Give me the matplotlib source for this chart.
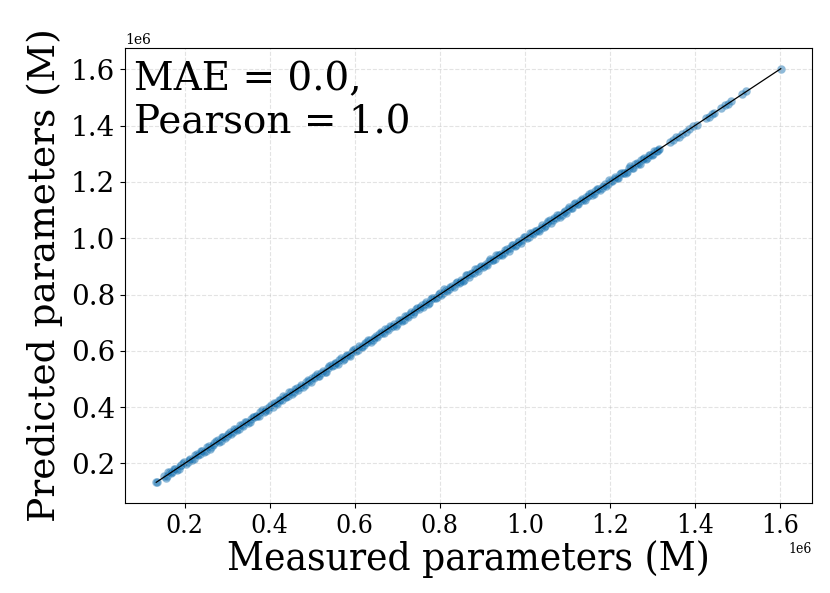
import numpy as np
import matplotlib
matplotlib.use("Agg")
import matplotlib.pyplot as plt
from matplotlib.ticker import MultipleLocator

# values in millions of parameters
measured_a = [0.133, 0.134, 0.152, 0.158, 0.165, 0.171, 0.178, 0.186, 0.192, 0.199, 0.207, 0.213,
              0.221, 0.228, 0.236, 0.241, 0.249, 0.257, 0.262, 0.270, 0.278, 0.285, 0.291, 0.299,
              0.306, 0.314, 0.320, 0.327, 0.335, 0.342, 0.349, 0.357, 0.363, 0.371, 0.378, 0.386,
              0.392, 0.399, 0.407, 0.414, 0.421, 0.428, 0.435, 0.443, 0.450, 0.457, 0.464, 0.471,
              0.478, 0.486, 0.493, 0.500, 0.507, 0.514, 0.521, 0.529, 0.536, 0.543, 0.550, 0.557,
              0.564, 0.572, 0.579, 0.586, 0.593, 0.600, 0.607, 0.614, 0.622, 0.629, 0.636, 0.643,
              0.650, 0.657, 0.665, 0.672, 0.679, 0.686, 0.693, 0.700, 0.708, 0.715, 0.722, 0.729,
              0.736, 0.743, 0.751, 0.758, 0.765, 0.772, 0.779, 0.786, 0.794, 0.801, 0.808, 0.815,
              0.822, 0.829, 0.837, 0.844, 0.851, 0.858, 0.865, 0.872, 0.880, 0.887, 0.894, 0.901,
              0.908, 0.915, 0.923, 0.930, 0.937, 0.944, 0.951, 0.958, 0.966, 0.973, 0.980, 0.987,
              0.994, 1.001, 1.009, 1.016, 1.023, 1.030, 1.037, 1.044, 1.052, 1.059, 1.066, 1.073,
              1.080, 1.087, 1.095, 1.102, 1.109, 1.116, 1.123, 1.130, 1.138, 1.145, 1.152, 1.159,
              1.166, 1.173, 1.181, 1.188, 1.195, 1.202, 1.209, 1.216, 1.224, 1.231, 1.238, 1.245,
              1.252, 1.259, 1.267, 1.274, 1.281, 1.288, 1.295, 1.302, 1.308, 1.313,
              1.342, 1.348, 1.355, 1.362, 1.369, 1.380, 1.387, 1.395, 1.404,
              1.427, 1.433, 1.440, 1.445, 1.462, 1.470, 1.478, 1.486, 1.512, 1.521, 1.602]

offset_a = [0.000, 0.001, 0.002, -0.003, 0.004, -0.002, 0.003, -0.004, 0.001, 0.005, -0.003, 0.002,
            -0.005, 0.004, -0.001, 0.003, -0.004, 0.005, -0.002, 0.001, 0.004, -0.005, 0.002, -0.003,
            0.005, -0.001, 0.003, -0.004, 0.002, 0.004, -0.005, 0.001, 0.003, -0.002, 0.005, -0.004,
            0.001, 0.003, -0.005, 0.002, 0.004, -0.003, 0.001, -0.004, 0.005, -0.002, 0.003, 0.000,
            -0.005, 0.004, -0.001, 0.002, 0.005, -0.003, 0.001, -0.004, 0.003, 0.005, -0.002, 0.000,
            0.004, -0.005, 0.002, -0.001, 0.003, 0.005, -0.004, 0.001, -0.003, 0.004, 0.002, -0.005,
            0.001, 0.003, -0.002, 0.005, -0.004, 0.000, 0.004, -0.003, 0.002, -0.005, 0.003, 0.001,
            -0.004, 0.005, -0.002, 0.003, 0.000, -0.005, 0.004, 0.001, -0.003, 0.005, -0.001, 0.002,
            -0.004, 0.003, 0.005, -0.002, 0.001, -0.005, 0.004, 0.000, -0.003, 0.002, 0.005, -0.004,
            0.001, 0.003, -0.002, -0.005, 0.004, 0.001, -0.003, 0.005, -0.001, 0.002, -0.004, 0.003,
            0.000, 0.005, -0.005, 0.002, 0.004, -0.002, 0.001, -0.004, 0.003, 0.005, -0.003, 0.000,
            0.004, -0.005, 0.002, 0.001, -0.003, 0.005, -0.001, 0.003, -0.004, 0.002, 0.004, -0.005,
            0.001, 0.003, -0.002, 0.005, -0.004, 0.000, 0.002, -0.003, 0.004, 0.001, -0.005, 0.003,
            -0.001, 0.004, -0.003, 0.002, 0.005, -0.004, 0.001, -0.002, 0.003, 0.000,
            -0.002, 0.001, 0.003, -0.001, 0.002, -0.002, 0.001, 0.002, -0.001,
            0.001, -0.002, 0.002, 0.000, -0.001, 0.002, -0.002, 0.001, 0.000, 0.001, 0.000]

measured_b = [0.155, 0.161, 0.168, 0.174, 0.182, 0.189, 0.195, 0.203, 0.210, 0.217, 0.224, 0.232,
              0.238, 0.245, 0.253, 0.259, 0.266, 0.274, 0.281, 0.288, 0.295, 0.302, 0.310, 0.317,
              0.323, 0.331, 0.338, 0.345, 0.353, 0.360, 0.367, 0.374, 0.382, 0.389, 0.395, 0.403,
              0.410, 0.417, 0.424, 0.431, 0.439, 0.446, 0.453, 0.460, 0.467, 0.474, 0.482, 0.489,
              0.496, 0.503, 0.510, 0.517, 0.525, 0.532, 0.539, 0.546, 0.553, 0.560, 0.568, 0.575,
              0.582, 0.589, 0.596, 0.603, 0.610, 0.618, 0.625, 0.632, 0.639, 0.646, 0.653, 0.661,
              0.668, 0.675, 0.682, 0.689, 0.696, 0.704, 0.711, 0.718, 0.725, 0.732, 0.739, 0.747,
              0.754, 0.761, 0.768, 0.775, 0.782, 0.790, 0.797, 0.804, 0.811, 0.818, 0.825, 0.833,
              0.840, 0.847, 0.854, 0.861, 0.868, 0.876, 0.883, 0.890, 0.897, 0.904, 0.911, 0.919,
              0.926, 0.933, 0.940, 0.947, 0.954, 0.962, 0.969, 0.976, 0.983, 0.990, 0.997, 1.005,
              1.012, 1.019, 1.026, 1.033, 1.040, 1.048, 1.055, 1.062, 1.069, 1.076, 1.083, 1.091,
              1.098, 1.105, 1.112, 1.119, 1.126, 1.134, 1.141, 1.148, 1.155, 1.162, 1.169, 1.177,
              1.184, 1.191, 1.198, 1.205, 1.212, 1.220, 1.227, 1.234, 1.241, 1.248, 1.255, 1.263,
              1.270, 1.277, 1.284, 1.291, 1.298, 1.305, 1.311, 1.316]

offset_b = [-0.006, 0.007, -0.002, 0.006, -0.007, 0.003, 0.007, -0.005, 0.002, -0.006, 0.006, -0.001,
            0.007, -0.006, 0.004, -0.007, 0.001, 0.006, -0.004, 0.007, -0.006, 0.002, -0.007, 0.005,
            -0.003, 0.007, -0.006, 0.001, -0.007, 0.006, 0.003, -0.005, 0.007, -0.002, -0.006, 0.005,
            0.006, -0.007, 0.002, 0.007, -0.004, 0.006, -0.006, 0.003, -0.007, 0.005, -0.002, 0.007,
            -0.006, 0.001, 0.007, -0.005, 0.004, -0.007, 0.006, -0.001, 0.005, -0.006, 0.007, -0.003,
            0.002, -0.007, 0.006, -0.004, 0.007, -0.006, 0.003, 0.006, -0.007, 0.001, -0.005, 0.007,
            -0.006, 0.004, 0.007, -0.002, -0.007, 0.006, -0.004, 0.005, -0.006, 0.007, -0.001, 0.006,
            0.003, -0.007, 0.006, -0.005, 0.007, -0.002, 0.004, -0.006, 0.007, -0.004, 0.001, -0.007,
            0.006, -0.003, -0.006, 0.007, -0.005, 0.002, 0.006, -0.007, 0.004, -0.001, -0.006, 0.007,
            -0.004, 0.006, 0.002, -0.007, 0.005, -0.006, 0.007, -0.002, 0.004, -0.007, 0.006, -0.003,
            0.007, -0.005, 0.001, -0.006, 0.006, -0.004, 0.007, -0.007, 0.003, 0.005, -0.006, 0.002,
            -0.007, 0.006, -0.003, 0.007, -0.005, 0.004, -0.006, 0.001, 0.007, -0.004, 0.006, -0.007,
            0.002, -0.006, 0.007, -0.003, 0.005, -0.007, 0.006, -0.002, -0.005, 0.007, -0.004, 0.003,
            -0.006, 0.005, -0.003, 0.006, -0.004, 0.003, -0.002, 0.002]

mae_text = "MAE = 0.0,\nPearson = 1.0"
x_label = "Measured parameters (M)"
y_label = "Predicted parameters (M)"

measured = np.array(measured_a + measured_b) * 1e6
predicted = (np.array(measured_a + measured_b) + np.array(offset_a + offset_b)) * 1e6

plt.rcParams['font.family'] = ['DejaVu Serif']

fig = plt.figure(figsize=(8.3, 5.93), dpi=100)
ax = fig.add_axes([0.1506, 0.1518, 0.8277, 0.7672])

ax.scatter(measured, predicted, s=38, color='#1f77b4', alpha=0.5,
           edgecolors='white', linewidths=0.15)
lo, hi = measured.min(), measured.max()
ax.plot([lo, hi], [lo, hi], color='black', lw=0.9)

ax.xaxis.set_major_locator(MultipleLocator(200000))
ax.yaxis.set_major_locator(MultipleLocator(200000))
ax.grid(True, linestyle='--', color='#b0b0b0', alpha=0.35, lw=0.8)

ax.tick_params(axis='y', labelsize=20)
ax.tick_params(axis='x', labelsize=19)
for lab in ax.get_xticklabels():
    lab.set_fontstretch('condensed')
ax.set_xlabel(x_label, fontsize=29, fontstretch='condensed', labelpad=2)
ax.set_ylabel(y_label, fontsize=27, labelpad=6)
ax.yaxis.get_offset_text().set_fontsize(10)
ax.xaxis.get_offset_text().set_fontsize(10)
ax.xaxis.get_offset_text().set_fontstretch('condensed')

ax.text(0.013, 0.97, mae_text, transform=ax.transAxes, fontsize=28,
        va='top', ha='left', linespacing=1.2)

fig.savefig("out.png", dpi=100)
